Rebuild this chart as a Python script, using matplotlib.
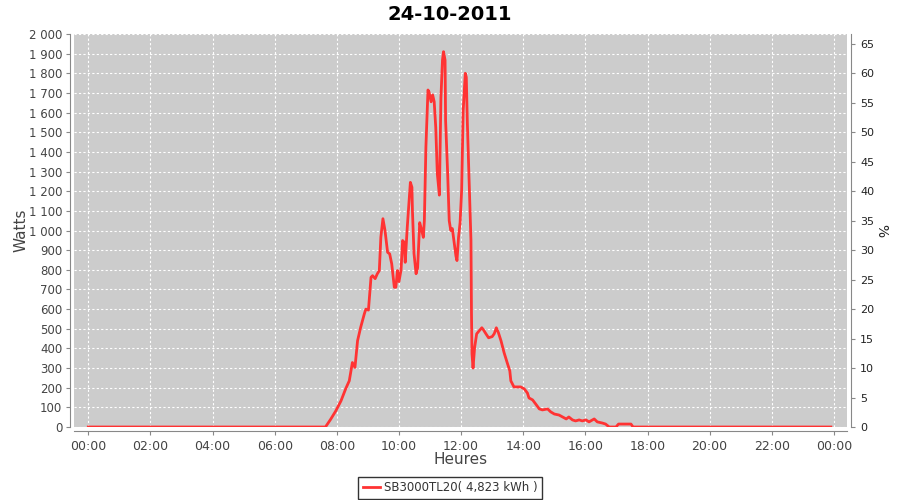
import matplotlib
matplotlib.use("Agg")
import matplotlib.pyplot as plt
from matplotlib.ticker import FuncFormatter, MultipleLocator

title = "24-10-2011"
series_name = "SB3000TL20( 4,823 kWh )"
x_label = "Heures"
y_label = "Watts"
y2_label = "%"
nominal_power = 3000  # W, for the % axis

times = ["00:00", "07:38", "07:48", "07:58", "08:08", "08:17", "08:24", "08:30", "08:35", "08:40",
         "08:46", "08:53", "08:56", "09:01", "09:06", "09:09", "09:14", "09:18", "09:22", "09:25",
         "09:29", "09:33", "09:38", "09:42", "09:46", "09:51", "09:54", "09:57", "10:00", "10:04",
         "10:07", "10:10", "10:12", "10:16", "10:22", "10:25", "10:26", "10:29", "10:33", "10:36",
         "10:40", "10:44", "10:47", "10:49", "10:52", "10:56", "10:58", "11:02", "11:05", "11:08",
         "11:11", "11:14", "11:18", "11:21", "11:24", "11:26", "11:29", "11:30", "11:34", "11:37",
         "11:40", "11:43", "11:46", "11:50", "11:52", "11:55", "11:58", "12:01", "12:04", "12:08",
         "12:10", "12:12", "12:15", "12:19", "12:20", "12:21", "12:23", "12:26", "12:30", "12:35",
         "12:40", "12:43", "12:48", "12:53", "13:00", "13:04", "13:08", "13:12", "13:17", "13:23",
         "13:29", "13:34", "13:36", "13:42", "13:55", "14:02", "14:08", "14:11", "14:18", "14:24",
         "14:31", "14:37", "14:47", "14:53", "15:00", "15:09", "15:16", "15:23", "15:28", "15:35",
         "15:41", "15:48", "15:54", "16:01", "16:07", "16:17", "16:23", "16:33", "16:39", "16:46",
         "16:59", "17:04", "17:28", "17:32", "23:54"]
watts = [0, 0, 39, 82, 133, 194, 235, 328, 303, 439,
         507, 575, 600, 595, 762, 770, 755, 779, 796, 966,
         1060, 1000, 889, 881, 830, 711, 711, 796, 740, 800,
         949, 940, 838, 1017, 1245, 1220, 1100, 883, 780, 810,
         1040, 1000, 965, 1050, 1425, 1715, 1705, 1655, 1690, 1655,
         1525, 1290, 1180, 1675, 1867, 1910, 1867, 1560, 1290, 1050,
         1000, 1010, 950, 870, 847, 965, 1040, 1205, 1610, 1800,
         1780, 1550, 1290, 950, 577, 372, 300, 403, 474, 490,
         505, 495, 474, 454, 460, 475, 505, 480, 439, 378,
         327, 286, 235, 204, 204, 194, 173, 148, 138, 117,
         92, 87, 92, 77, 66, 61, 51, 41, 51, 36,
         31, 36, 31, 36, 26, 41, 26, 20, 15, 0,
         0, 15, 15, 0, 0]

x_ticks = list(range(0, 25, 2))
x_tick_labels = ["00:00", "02:00", "04:00", "06:00", "08:00", "10:00", "12:00",
                 "14:00", "16:00", "18:00", "20:00", "22:00", "00:00"]

hours = [int(t[:2]) + int(t[3:]) / 60 for t in times]

tick_col = "#444444"
spine_col = "#888888"

fig = plt.figure(figsize=(9, 5), dpi=100)
ax = fig.add_axes([74 / 900, 1 - 427 / 500, 773 / 900, 393 / 500])
ax.set_facecolor("#cccccc")

ax.plot(hours, watts, color="#ff3333", lw=2.0, label=series_name, solid_joinstyle="round")

ax.set_xlim(-0.46, 24.42)
ax.set_ylim(0, 2000)
ax.set_xticks(x_ticks)
ax.set_xticklabels(x_tick_labels)
ax.yaxis.set_major_locator(MultipleLocator(100))
ax.yaxis.set_major_formatter(FuncFormatter(lambda v, p: f"{int(round(v)):,}".replace(",", " ")))
ax.grid(True, color="white", linestyle=(0, (2, 2)), linewidth=0.8)
ax.set_axisbelow(True)

ax.spines["top"].set_visible(False)
ax.spines["right"].set_visible(False)
ax.spines["left"].set_position(("outward", 3))
ax.spines["bottom"].set_position(("outward", 3))
for s in ["left", "bottom"]:
    ax.spines[s].set_color(spine_col)
ax.tick_params(axis="y", colors=spine_col, labelcolor=tick_col, labelsize=8.5, length=3, width=0.8, pad=2.5)
ax.tick_params(axis="x", colors=spine_col, labelcolor=tick_col, labelsize=9, length=3, width=0.8)

ax2 = ax.twinx()
ax2.set_ylim(0, 2000 / nominal_power * 100)
ax2.set_yticks(list(range(0, 70, 5)))
ax2.spines["top"].set_visible(False)
ax2.spines["left"].set_visible(False)
ax2.spines["bottom"].set_visible(False)
ax2.spines["right"].set_position(("outward", 3))
ax2.spines["right"].set_color(spine_col)
ax2.tick_params(axis="y", colors=spine_col, labelcolor="#222222", labelsize=8, length=3, width=0.8)
ax2.set_ylabel(y2_label, rotation=-90, color="#222222", fontsize=10, va="center")
ax2.yaxis.set_label_coords((881 - 74) / 773, 0.5)

ax.set_xlabel(x_label, color=tick_col, fontsize=11, va="center")
ax.xaxis.set_label_coords(0.5, (427 - 460) / 393)
ax.set_ylabel(y_label, color=tick_col, fontsize=11, va="center")
ax.yaxis.set_label_coords((21 - 74) / 773, 0.5)

fig.text(0.5, 1 - 14 / 500, title, ha="center", va="center", fontsize=14, fontweight="bold", color="black")

leg = fig.legend(handles=ax.get_lines(), loc="center", bbox_to_anchor=(0.5, 1 - 488 / 500),
                 frameon=True, fancybox=False, edgecolor="black", fontsize=8.5,
                 handlelength=1.5, handletextpad=0.3, borderpad=0.35, borderaxespad=0)
leg.get_frame().set_linewidth(1.0)
for t in leg.get_texts():
    t.set_color("#333333")

fig.savefig("out.png", dpi=100)
